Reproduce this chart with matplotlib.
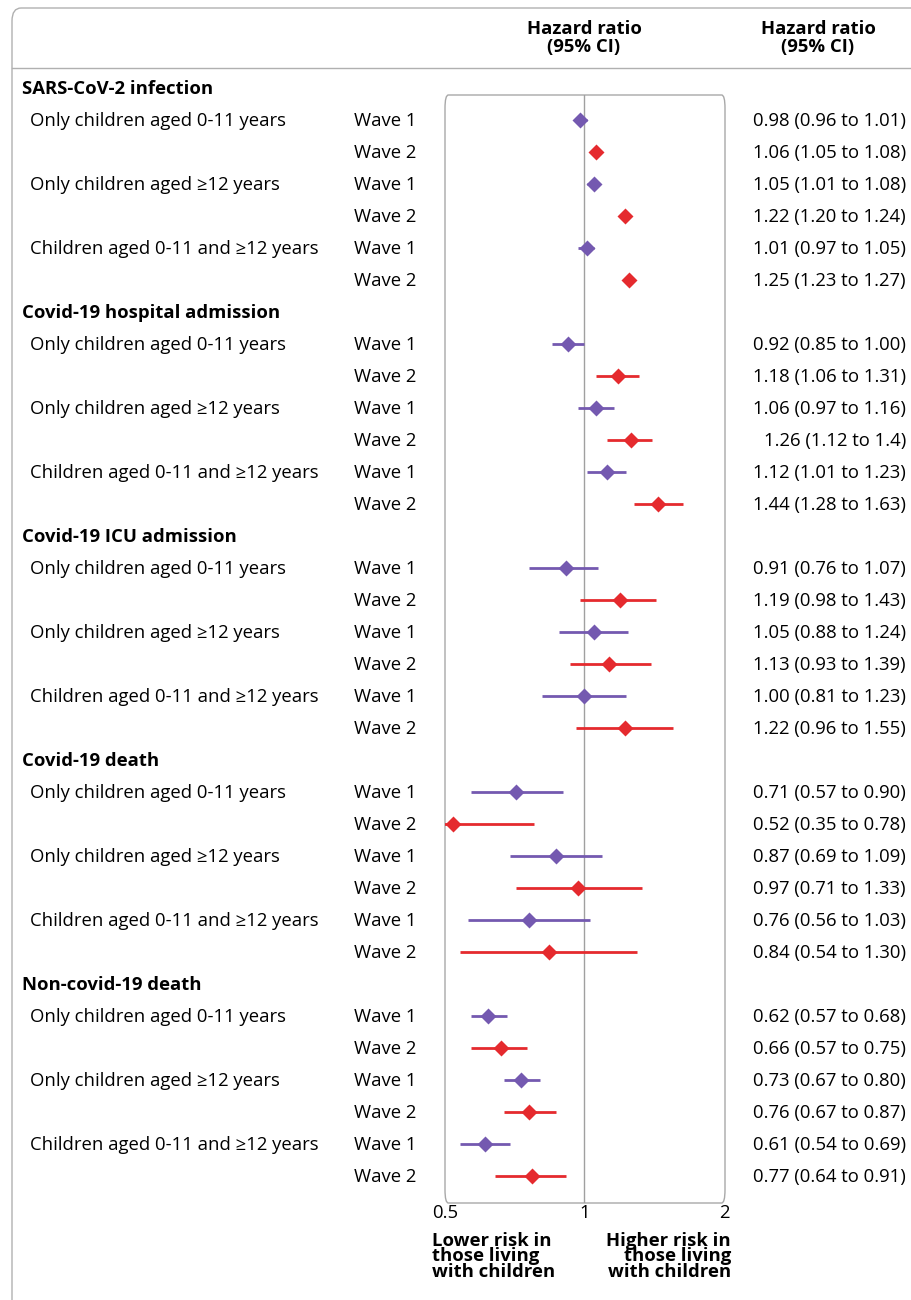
import numpy as np
import matplotlib.pyplot as plt
from matplotlib.patches import FancyBboxPatch

plt.rcParams['font.family'] = ['Open Sans', 'DejaVu Sans']

sections = ['SARS-CoV-2 infection', 'Covid-19 hospital admission',
            'Covid-19 ICU admission', 'Covid-19 death', 'Non-covid-19 death']
groups = ['Only children aged 0-11 years', 'Only children aged \u226512 years',
          'Children aged 0-11 and \u226512 years']
waves = ['Wave 1', 'Wave 2']

hr = [0.98, 1.06, 1.05, 1.22, 1.01, 1.25,
      0.92, 1.18, 1.06, 1.26, 1.12, 1.44,
      0.91, 1.19, 1.05, 1.13, 1.00, 1.22,
      0.71, 0.52, 0.87, 0.97, 0.76, 0.84,
      0.62, 0.66, 0.73, 0.76, 0.61, 0.77]
lo = [0.96, 1.05, 1.01, 1.20, 0.97, 1.23,
      0.85, 1.06, 0.97, 1.12, 1.01, 1.28,
      0.76, 0.98, 0.88, 0.93, 0.81, 0.96,
      0.57, 0.35, 0.69, 0.71, 0.56, 0.54,
      0.57, 0.57, 0.67, 0.67, 0.54, 0.64]
hi = [1.01, 1.08, 1.08, 1.24, 1.05, 1.27,
      1.00, 1.31, 1.16, 1.40, 1.23, 1.63,
      1.07, 1.43, 1.24, 1.39, 1.23, 1.55,
      0.90, 0.78, 1.09, 1.33, 1.03, 1.30,
      0.68, 0.75, 0.80, 0.87, 0.69, 0.91]
labels = ['0.98 (0.96 to 1.01)', '1.06 (1.05 to 1.08)', '1.05 (1.01 to 1.08)',
          '1.22 (1.20 to 1.24)', '1.01 (0.97 to 1.05)', '1.25 (1.23 to 1.27)',
          '0.92 (0.85 to 1.00)', '1.18 (1.06 to 1.31)', '1.06 (0.97 to 1.16)',
          '1.26 (1.12 to 1.4)', '1.12 (1.01 to 1.23)', '1.44 (1.28 to 1.63)',
          '0.91 (0.76 to 1.07)', '1.19 (0.98 to 1.43)', '1.05 (0.88 to 1.24)',
          '1.13 (0.93 to 1.39)', '1.00 (0.81 to 1.23)', '1.22 (0.96 to 1.55)',
          '0.71 (0.57 to 0.90)', '0.52 (0.35 to 0.78)', '0.87 (0.69 to 1.09)',
          '0.97 (0.71 to 1.33)', '0.76 (0.56 to 1.03)', '0.84 (0.54 to 1.30)',
          '0.62 (0.57 to 0.68)', '0.66 (0.57 to 0.75)', '0.73 (0.67 to 0.80)',
          '0.76 (0.67 to 0.87)', '0.61 (0.54 to 0.69)', '0.77 (0.64 to 0.91)']

W, H = 912, 1300
PURPLE = '#7459b0'
RED = '#e52a2e'
FS = 13.3

fig = plt.figure(figsize=(W / 100, H / 100), dpi=100)

def px(x, y):
    return x / W, 1 - y / H

def ytop(i):
    return 89 + 32 * i

# outer border
fig.patches.append(FancyBboxPatch(px(12, 1340), (W + 40) / W, 1332 / H,
                                  boxstyle='round,pad=0,rounding_size=0.01',
                                  transform=fig.transFigure, fill=False,
                                  ec='#b0b0b0', lw=1))
fig.add_artist(plt.Line2D([12 / W, 1], [1 - 68 / H] * 2, color='#b0b0b0', lw=1))

fig.text(*px(584, 38), 'Hazard ratio\n(95% CI)', ha='center', va='center',
         fontsize=FS, fontweight='bold', linespacing=0.95)
fig.text(*px(818, 38), 'Hazard ratio\n(95% CI)', ha='center', va='center',
         fontsize=FS, fontweight='bold', linespacing=0.95)

# forest axes
x0, x1, y0, y1 = 445, 725, 95, 1203
ax = fig.add_axes([x0 / W, 1 - y1 / H, (x1 - x0) / W, (y1 - y0) / H])
ax.set_xscale('log', base=2)
ax.set_xlim(0.5, 2 * 2 ** (2 / 278))
ax.set_ylim((y1 - 88) / 32, (y0 - 88) / 32)
for s in ax.spines.values():
    s.set_visible(False)
ax.add_patch(FancyBboxPatch((0, 0), 1, 1, boxstyle='round,pad=0,rounding_size=0.012',
                            transform=ax.transAxes, fill=False, ec='#a8a8a8', lw=1,
                            clip_on=False))
ax.axvline(1, color='#a0a0a0', lw=1)
ax.set_yticks([])
ax.set_xticks([0.5, 1, 2])
ax.set_xticklabels(['0.5', '1', '2'], fontsize=FS)
ax.tick_params(axis='x', length=0, pad=1)
ax.minorticks_off()

k = 0
for si, sec in enumerate(sections):
    base = si * 7
    fig.text(*px(22, ytop(base)), sec, ha='left', va='center', fontsize=FS,
             fontweight='bold')
    for gi, g in enumerate(groups):
        fig.text(*px(30, ytop(base + 1 + 2 * gi)), g, ha='left', va='center', fontsize=FS)
        for wi, w in enumerate(waves):
            row = base + 1 + 2 * gi + wi
            col = PURPLE if wi == 0 else RED
            fig.text(*px(354, ytop(row)), w, ha='left', va='center', fontsize=FS)
            fig.text(*px(906, ytop(row)), labels[k], ha='right', va='center', fontsize=FS)
            ax.plot([lo[k], hi[k]], [row, row], color=col, lw=2, solid_capstyle='butt')
            ax.plot(hr[k], row, 'D', color=col, ms=8.5, mec='none')
            k += 1

fig.text(*px(432, 1232), 'Lower risk in\nthose living\nwith children', ha='left',
         va='top', fontsize=FS, fontweight='bold', linespacing=0.82)
fig.text(*px(731, 1232), 'Higher risk in\nthose living\nwith children', ha='right',
         va='top', fontsize=FS, fontweight='bold', linespacing=0.82)

fig.savefig('out.png', dpi=100)
